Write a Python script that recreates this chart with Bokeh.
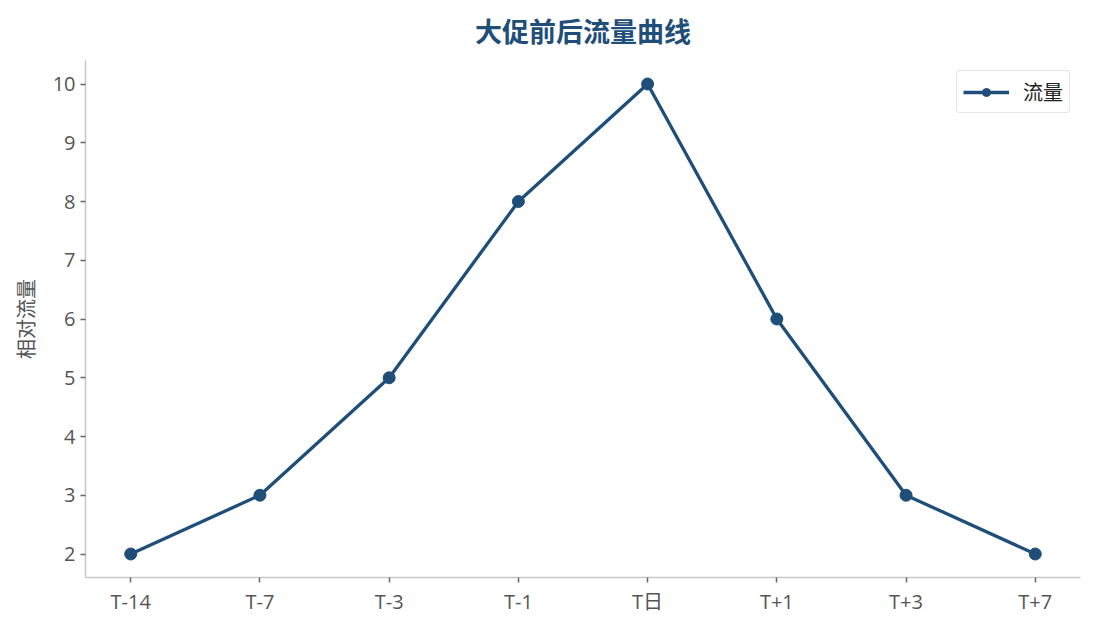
from bokeh.plotting import figure
from bokeh.models import Range1d, FixedTicker, Legend, LegendItem
from bokeh.embed import file_html
from bokeh.resources import INLINE

title_text = "大促前后流量曲线"
categories = ["T-14", "T-7", "T-3", "T-1", "T日", "T+1", "T+3", "T+7"]
traffic = [2, 3, 5, 8, 10, 6, 3, 2]
y_ticks = [2, 3, 4, 5, 6, 7, 8, 9, 10]

COLOR = "#1f4e79"
FONT = "Noto Sans CJK SC"
TITLE_FONT = "Lato, 'Noto Sans CJK SC'"
TICK_FONT = "'Open Sans', 'Noto Sans CJK SC'"

FRAME_W, FRAME_H = 995, 517

xs = list(range(len(categories)))

p = figure(width=1093, height=627, output_backend="svg", toolbar_location=None,
           x_range=Range1d(-0.35, len(categories) - 1 + 0.35),
           y_range=Range1d(1.6, 10.4),
           min_border_left=85, min_border_right=13, min_border_top=60, min_border_bottom=50)
p.frame_width = FRAME_W
p.frame_height = FRAME_H

p.title.text = title_text
p.title.align = "center"
p.title.text_font = TITLE_FONT
p.title.text_font_size = "27px"
p.title.text_font_style = "bold"
p.title.text_color = COLOR
p.title.standoff = 25

r_line = p.line(xs, traffic, line_color=COLOR, line_width=3.3)
r_pts = p.scatter(xs, traffic, size=12, fill_color=COLOR, line_color=COLOR)

legend = Legend(items=[LegendItem(label="流量", renderers=[r_line, r_pts])],
                location="top_right", label_text_font=FONT, label_text_font_size="20px",
                label_text_color="#222222", border_line_color="#cccccc", border_line_width=1.5,
                background_fill_alpha=1.0, glyph_width=46, glyph_height=20,
                label_standoff=14, padding=6, margin=10, border_radius=4)
p.add_layout(legend)

p.xgrid.visible = False
p.ygrid.visible = False
p.outline_line_color = None
p.background_fill_color = "white"

p.xaxis.ticker = FixedTicker(ticks=xs)
p.xaxis.major_label_overrides = {i: c for i, c in enumerate(categories)}
p.yaxis.ticker = FixedTicker(ticks=y_ticks)
p.yaxis.axis_label = "相对流量"
p.yaxis.axis_label_standoff = 10

for ax in (p.xaxis, p.yaxis):
    ax.axis_line_color = "#c8c8c8"
    ax.axis_line_width = 1.5
    ax.major_tick_line_color = "#666666"
    ax.major_tick_line_width = 1.5
    ax.major_tick_in = 0
    ax.major_tick_out = 5
    ax.minor_tick_line_color = None
    ax.major_label_text_font = TICK_FONT
    ax.major_label_text_font_size = "20px"
    ax.major_label_text_color = "#555555"
    ax.axis_label_text_font = FONT
    ax.axis_label_text_font_size = "20px"
    ax.axis_label_text_color = "#555555"
    ax.axis_label_text_font_style = "normal"

open("out.html", "w").write(file_html(p, INLINE))
